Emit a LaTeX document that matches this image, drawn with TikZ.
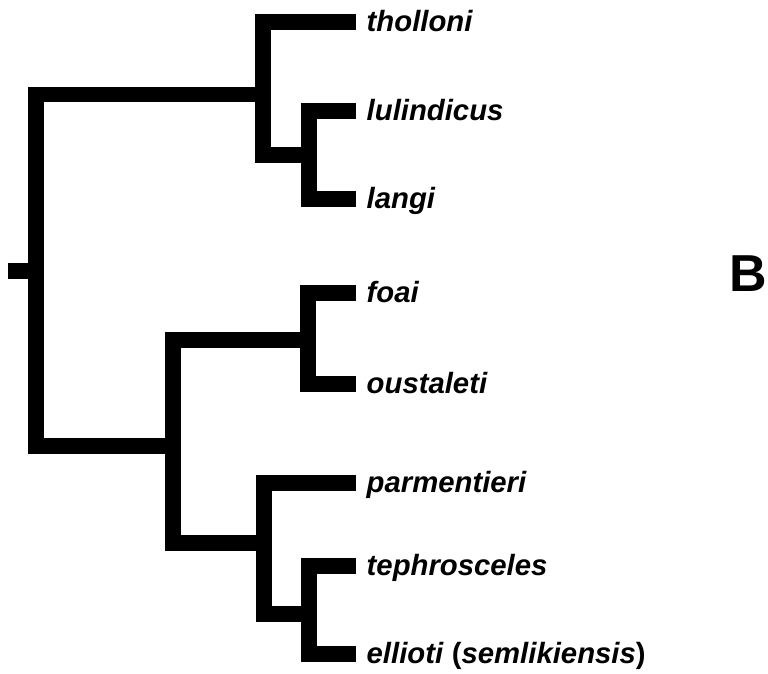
\documentclass[tikz,border=0pt]{standalone}
\usepackage{fontspec}
\setmainfont{Liberation Sans}

\begin{document}
\begin{tikzpicture}[x=1pt, y=-1pt,
    branch/.style={line width=15.5pt, line join=miter},
    leaf/.style={anchor=west, inner xsep=10.5pt, inner ysep=0pt,
      text height=22pt, text depth=3pt,
      font=\fontsize{29.3}{34}\selectfont\bfseries\itshape}]
  \useasboundingbox (0,0) rectangle (768,673);
  % tips
  \foreach \taxon/\y in {tholloni/22, lulindicus/111, langi/199, foai/293,
      oustaleti/384, parmentieri/483, tephrosceles/566}
    \node[leaf] (\taxon) at (356,\y) {\taxon};
  \node[leaf] (ellioti) at (356,654) {ellioti \textup{(}semlikiensis\textup{)}};
  % internal nodes
  \coordinate (stub) at (8,271);
  \coordinate (root) at (36,271);
  \coordinate (upper) at (263,94.5);
  \coordinate (lul) at (309,155);
  \coordinate (lower) at (173,446);
  \coordinate (foa) at (308,340);
  \coordinate (par) at (264,543);
  \coordinate (tep) at (309,614);
  % branches
  \draw[branch] (stub) -- (root);
  \draw[branch] (upper) -| (root) |- (lower);
  \draw[branch] (tholloni.west) -| (upper) |- (lul);
  \draw[branch] (lulindicus.west) -| (lul) |- (langi.west);
  \draw[branch] (foa) -| (lower) |- (par);
  \draw[branch] (foai.west) -| (foa) |- (oustaleti.west);
  \draw[branch] (parmentieri.west) -| (par) |- (tep);
  \draw[branch] (tephrosceles.west) -| (tep) |- (ellioti.west);
  \node[font=\fontsize{52}{60}\selectfont\bfseries] (panel) at (748,273.5) {B};
\end{tikzpicture}
\end{document}
